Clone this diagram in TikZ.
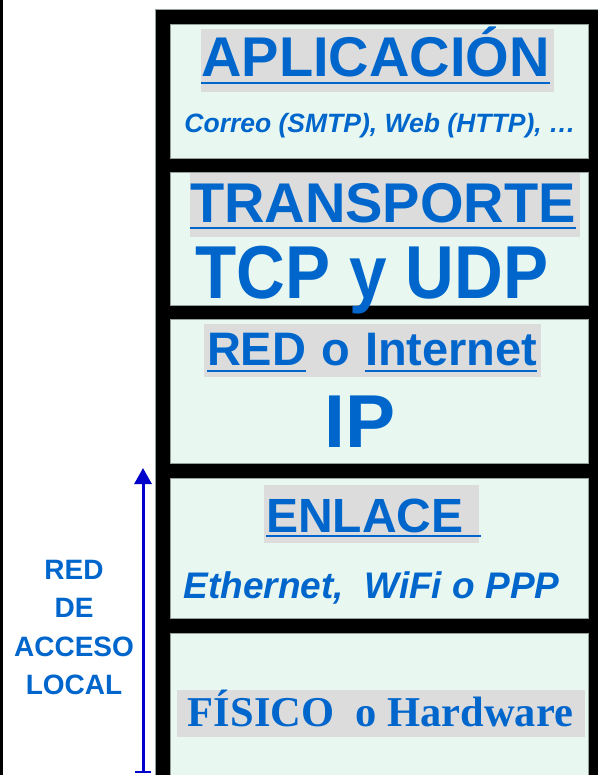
\documentclass[tikz,border=0pt]{standalone}
\usepackage{fontspec}
\setmainfont{Liberation Sans}
\newfontfamily\serifb{Liberation Serif}
\usetikzlibrary{arrows.meta}
\definecolor{tblue}{RGB}{0,102,204}
\definecolor{ablue}{RGB}{0,0,204}
\definecolor{lfill}{RGB}{232,248,240}
\definecolor{hgray}{RGB}{220,220,220}
\definecolor{edgegray}{RGB}{150,160,155}
\newcommand{\fs}[1]{\fontsize{#1}{#1}\selectfont}
\tikzset{
  lbl/.style={inner sep=0pt, outer sep=0pt, anchor=base, text=tblue, font=\bfseries},
  layerbox/.style={fill=lfill, draw=edgegray, line width=0.6pt},
  hlbox/.style={fill=hgray},
  uln/.style={draw=tblue, line width=2.5pt},
}
\begin{document}
\begin{tikzpicture}[x=1pt,y=-1pt]
\useasboundingbox (0,0) rectangle (597,775);
% left edge line
\fill[black] (0,0) rectangle (3,775);
% outer frame
\fill[black, draw=edgegray, line width=0.6pt] (155.5,9.5) rectangle (600,780);
% layers
\path[layerbox] (170,24) rectangle (588,158);
\path[layerbox] (170,172) rectangle (588,305);
\path[layerbox] (170,319) rectangle (588,463);
\path[layerbox] (170,478) rectangle (588,618);
\path[layerbox] (170,633) rectangle (588,790);
% highlights
\fill[hlbox] (201,29) rectangle (554,92);
\fill[hlbox] (190,173) rectangle (580,237);
\fill[hlbox] (204,324) rectangle (541,377);
\fill[hlbox] (264,485) rectangle (479,543);
\fill[hlbox] (177,690) rectangle (585,737);
% APLICACION
\node[lbl, font=\fs{56}\bfseries] (apl) at (375.5,77) {APLICACIÓN};
\draw[uln] ([yshift=-6pt]apl.base west) -- ([yshift=-6pt]apl.base east);
\node[lbl, font=\fs{26.5}\bfseries\itshape] (cor) at (380,133) {Correo (SMTP), Web (HTTP), …};
% TRANSPORTE
\node[lbl, font=\fs{56}\bfseries] (tra) at (383,223) {TRANSPORTE};
\draw[uln] ([yshift=-5pt]tra.base west) -- ([yshift=-5pt]tra.base east);
\node[lbl, font=\fs{75}\bfseries] (tcp) at (372,298) {\scalebox{0.9}[1]{TCP y UDP}};
% RED o Internet
\node[lbl, anchor=base west, font=\fs{47}\bfseries] (reda) at (207,365) {RED};
\node[lbl, font=\fs{47}\bfseries] (redb) at (336,365) {o};
\node[lbl, anchor=base west, font=\fs{47}\bfseries] (redc) at (365,365) {Internet};
\draw[uln] ([yshift=-6pt]reda.base west) -- ([yshift=-6pt]reda.base east);
\draw[uln] ([yshift=-6pt]redc.base west) -- ([yshift=-6pt]redc.base east);
\node[lbl, font=\fs{75}\bfseries] (ip) at (360,447) {IP};
% ENLACE
\node[lbl, anchor=base west, font=\fs{48}\bfseries] (enl) at (266,532) {ENLACE};
\draw[uln] ([yshift=-4pt]enl.base west) -- ([yshift=-4pt,xshift=18pt]enl.base east);
\node[lbl, font=\fs{37}\bfseries\itshape] (eth) at (371.5,598) {Ethernet,\ \ WiFi o PPP};
% FISICO
\node[lbl, font=\fs{42.5}\serifb\bfseries] (fis) at (380.5,726) {FÍSICO\ \ o Hardware};
% left label
\node[inner sep=0pt, text=tblue, align=center, font=\fontsize{28}{38.5}\selectfont\bfseries] (acc) at (74,627.5) {RED\\DE\\ACCESO\\LOCAL};
% arrow
\coordinate (abot) at (143,773);
\coordinate (atop) at (143,468);
\draw[ablue, line width=3pt, {Bar[width=16pt,line width=2pt]}-{Triangle[width=17pt,length=16pt]}] (abot) -- (atop);
\end{tikzpicture}
\end{document}
